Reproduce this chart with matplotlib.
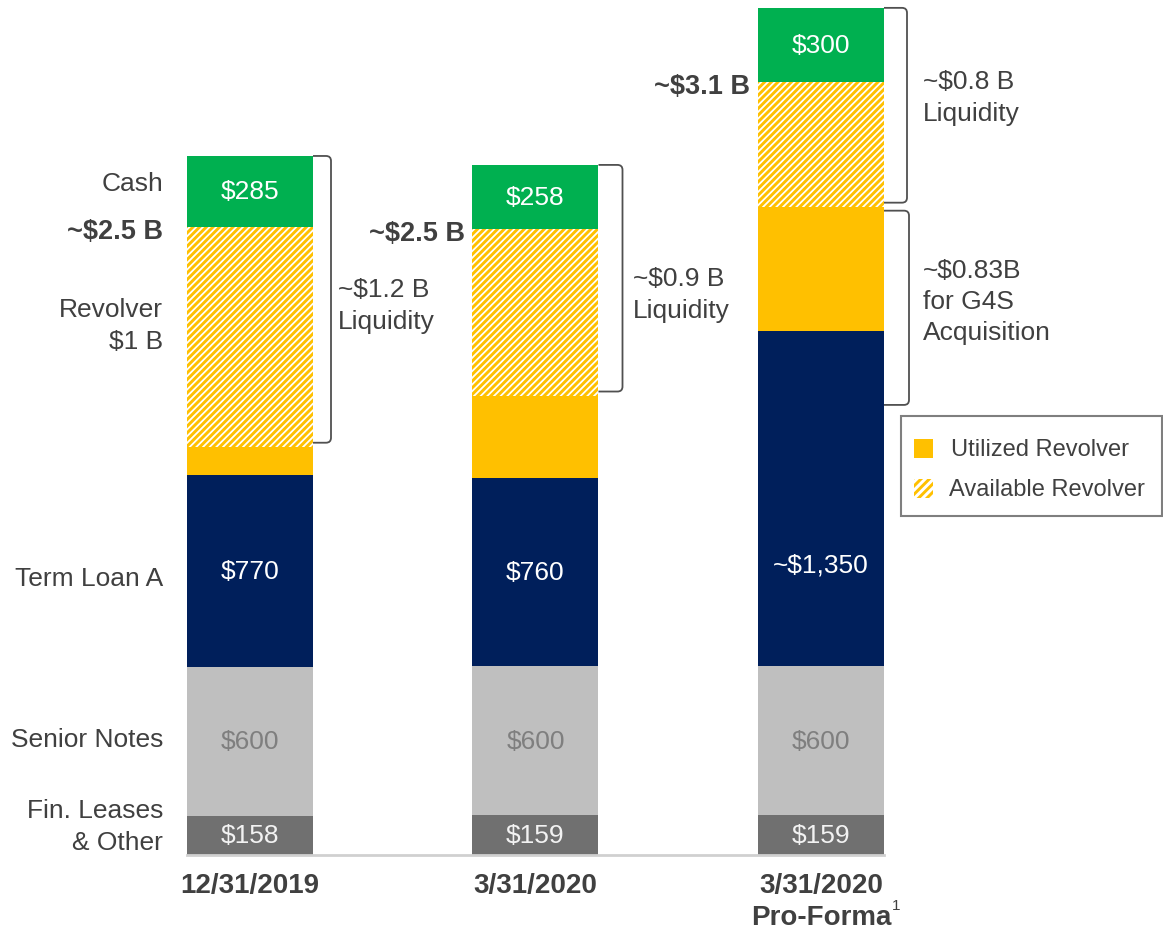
import numpy as np
import matplotlib
matplotlib.use("Agg")
import matplotlib.pyplot as plt
from matplotlib.patches import Rectangle, PathPatch
from matplotlib.path import Path

# ---- data ($ millions) ----
dates = ["12/31/2019", "3/31/2020", "3/31/2020"]
fin_leases = [158, 159, 159]
senior_notes = [600, 600, 600]
term_loan_a = [770, 760, 1350]
utilized_revolver = [115, 330, 500]
available_revolver = [885, 670, 500]
cash = [285, 258, 300]
tla_labels = ["$770", "$760", "~$1,350"]
totals = ["~$2.5 B", "~$2.5 B", "~$3.1 B"]
liquidity = ["~$1.2 B\nLiquidity", "~$0.9 B\nLiquidity", "~$0.8 B\nLiquidity"]
g4s_text = "~$0.83B\nfor G4S\nAcquisition"
g4s_funding = 830

GREEN = "#00B050"
YELLOW = "#FFC000"
NAVY = "#001F5B"
LGREY = "#BFBFBF"
DGREY = "#707070"
TXT = "#404040"

plt.rcParams["font.family"] = ["Liberation Sans", "DejaVu Sans"]
plt.rcParams["hatch.color"] = YELLOW
plt.rcParams["hatch.linewidth"] = 2.1

W, H = 1163, 929
fig = plt.figure(figsize=(W / 100, H / 100), dpi=100)
ax = fig.add_axes([0, 0, 1, 1])
ax.axis("off")

# pixel -> data mapping (bar centres at x=0,1,2 ; baseline at y=0)
X0, DX, Y0, DY = 250, 285.5, 856, 0.2485
ax.set_xlim(-X0 / DX, (W - X0) / DX)
ax.set_ylim(-(H - Y0) / DY, Y0 / DY)


def px(x, y):
    return (x - X0) / DX, (Y0 - y) / DY


x = np.arange(len(dates))
width = 126 / DX

fin_leases = np.array(fin_leases)
senior_notes = np.array(senior_notes)
term_loan_a = np.array(term_loan_a)
utilized_revolver = np.array(utilized_revolver)
available_revolver = np.array(available_revolver)
cash = np.array(cash)

b0 = np.zeros(3)
b1 = b0 + fin_leases
b2 = b1 + senior_notes
b3 = b2 + term_loan_a
b4 = b3 + utilized_revolver
b5 = b4 + available_revolver
top = b5 + cash

HATCH = "/////"

ax.bar(x, fin_leases, width, bottom=b0, color=DGREY, linewidth=0)
ax.bar(x, senior_notes, width, bottom=b1, color=LGREY, linewidth=0)
ax.bar(x, term_loan_a, width, bottom=b2, color=NAVY, linewidth=0)
ax.bar(x, utilized_revolver, width, bottom=b3, color=YELLOW, linewidth=0)
ax.bar(x, available_revolver, width, bottom=b4, color="white",
       edgecolor=YELLOW, hatch=HATCH, linewidth=0)
ax.bar(x, cash, width, bottom=b5, color=GREEN, linewidth=0)

# baseline
ax.plot([x[0] - width / 2, x[-1] + width / 2], [0, 0], color="#D0D0D0", lw=2)

# segment values
for i in range(3):
    ax.text(x[i], b0[i] + fin_leases[i] / 2, f"${fin_leases[i]}", ha="center",
            va="center", fontsize=19, color="#F2F2F2")
    ax.text(x[i], b1[i] + senior_notes[i] / 2, f"${senior_notes[i]}", ha="center",
            va="center", fontsize=19, color="#7F7F7F")
    ax.text(x[i], b2[i] + min(term_loan_a[i], 820) / 2, tla_labels[i],
            ha="center", va="center", fontsize=19, color="white")
    ax.text(x[i], b5[i] + cash[i] / 2, f"${cash[i]}", ha="center",
            va="center", fontsize=19, color="white")
    ax.text(x[i], px(0, 886)[1], dates[i], ha="center", va="center",
            fontsize=20, fontweight="bold", color=TXT)

ax.text(x[2], px(0, 918)[1], "Pro-Forma", ha="center", va="center",
        fontsize=20, fontweight="bold", color=TXT)
ax.text(*px(892, 906), "1", ha="left", va="center", fontsize=11, color=TXT)

# totals (bold), placed at top of revolver
total_x = [px(163, 0)[0], x[1] - width / 2 - 7 / DX, x[2] - width / 2 - 8 / DX]
for i in range(3):
    ax.text(total_x[i], b5[i] - 16, totals[i], ha="right", va="center",
            fontsize=19.5, fontweight="bold", color=TXT)

# left category labels
lab_x = px(163, 0)[0]
for txt, yy in [("Cash", 184), ("Revolver\n$1 B", 326), ("Term Loan A", 579),
                ("Senior Notes", 740), ("Fin. Leases\n& Other", 827)]:
    ax.text(lab_x, px(0, yy)[1], txt, ha="right", va="center", fontsize=19,
            color=TXT, linespacing=1.38)


def bracket(xl, xr, y_bot, y_top):
    rx, ry = 5 / DX, 5 / DY
    verts = [(xl, y_top), (xr - rx, y_top), (xr, y_top), (xr, y_top - ry),
             (xr, y_bot + ry), (xr, y_bot), (xr - rx, y_bot), (xl, y_bot)]
    codes = [Path.MOVETO, Path.LINETO, Path.CURVE3, Path.CURVE3,
             Path.LINETO, Path.CURVE3, Path.CURVE3, Path.LINETO]
    ax.add_patch(PathPatch(Path(verts, codes), fill=False, edgecolor="#505050",
                           lw=1.3, clip_on=False))


gap = 4 / DY
bracket(x[0] + width / 2, x[0] + width / 2 + 18 / DX, b4[0] + gap, top[0])
bracket(x[1] + width / 2, x[1] + width / 2 + 24 / DX, b4[1] + gap, top[1])
bracket(x[2] + width / 2, x[2] + width / 2 + 23 / DX, b4[2] + gap, top[2])
bracket(x[2] + width / 2, x[2] + width / 2 + 25 / DX,
        b4[2] - g4s_funding + 2 * gap, b4[2] - gap)

for txt, (tx, ty) in zip(liquidity, [(338, 306), (633, 295), (923, 98)]):
    ax.text(*px(tx, ty), txt, ha="left", va="center", fontsize=19,
            color=TXT, linespacing=1.38)
ax.text(*px(923, 302), g4s_text, ha="left", va="center", fontsize=19,
        color=TXT, linespacing=1.38)

# legend box
lx0, ly0 = px(901, 517)
lx1, ly1 = px(1162, 417)
ax.add_patch(Rectangle((lx0, ly0), lx1 - lx0, ly1 - ly0, fill=False,
                       edgecolor="#7F7F7F", lw=1.5, clip_on=False))
sx0, sy0 = px(914, 459)
sx1, sy1 = px(933, 440)
ax.add_patch(Rectangle((sx0, sy0), sx1 - sx0, sy1 - sy0, facecolor=YELLOW,
                       linewidth=0))
hx0, hy0 = px(914, 499)
hx1, hy1 = px(933, 480)
ax.add_patch(Rectangle((hx0, hy0), hx1 - hx0, hy1 - hy0, facecolor="white",
                       edgecolor=YELLOW, hatch="////", linewidth=0))
ax.text(*px(951, 450), "Utilized Revolver", ha="left", va="center",
        fontsize=17, color=TXT)
ax.text(*px(949, 490), "Available Revolver", ha="left", va="center",
        fontsize=17, color=TXT)

fig.savefig("out.png", dpi=100)
